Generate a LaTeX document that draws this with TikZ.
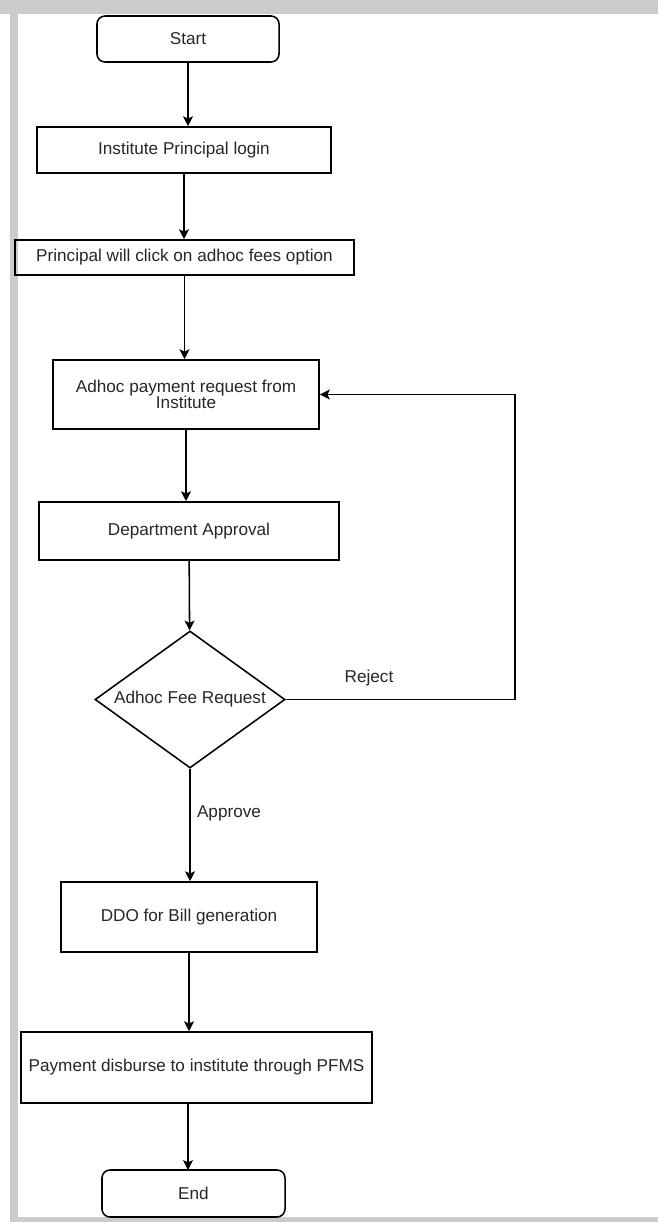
\documentclass[tikz,border=0pt]{standalone}
\usepackage{fontspec}
\setmainfont{Liberation Sans}
\usetikzlibrary{shapes.geometric,arrows.meta}
\begin{document}
\begin{tikzpicture}[>={Stealth[length=7pt,width=7pt,inset=1.5pt]}, x=0.025cm, y=-0.025cm,
  every node/.style={font=\fontsize{12.2}{11.6}\selectfont, text=black!85},
  proc/.style={draw, line width=1.1pt, inner sep=0pt},
  term/.style={proc, rounded corners=0.2cm},
  decision/.style={proc, diamond, aspect=1.4},
  flow/.style={->, line width=1.1pt}]
\useasboundingbox (0,0) rectangle (658,1222);
\fill[gray!40] (0,0) rectangle (658,14);
\fill[gray!40] (10,14) rectangle (18,1222);
\fill[gray!40] (10,1217) rectangle (658,1222);
% boxes
\node[term, minimum width=4.55cm, minimum height=1.15cm] (start) at (188,39) {Start};
\node[proc, minimum width=7.35cm, minimum height=1.15cm] (login) at (184,150) {Institute Principal login};
\node[proc, minimum width=8.475cm, minimum height=0.875cm] (click) at (184.5,257.5) {Principal will click on adhoc fees option};
\node[proc, minimum width=6.65cm, minimum height=1.725cm, align=center] (request) at (186,394.5) {Adhoc payment request from\\Institute};
\node[proc, minimum width=7.5cm, minimum height=1.45cm] (dept) at (189,531) {Department Approval};
\node[decision, minimum width=4.75cm, minimum height=3.425cm] (decide) at (190,699.5) {Adhoc Fee Request};
\node[proc, minimum width=6.4cm, minimum height=1.75cm] (ddo) at (189,917) {DDO for Bill generation};
\node[proc, minimum width=8.775cm, minimum height=1.775cm] (pay) at (196.5,1067.5) {Payment disburse to institute through PFMS};
\node[term, minimum width=4.575cm, minimum height=1.175cm] (end) at (193.5,1193.5) {End};
\node (rejectlbl) at (369,678) {Reject};
\node (approvelbl) at (229,813) {Approve};
\coordinate (loopR) at (515,699.5);
\coordinate (endin) at (188,1170);
% arrows
\draw[flow] (start) -- (start |- login.north);
\draw[flow] (login) -- (login |- click.north);
\draw[flow] (click) -- (click |- request.north);
\draw[flow] (request) -- (request |- dept.north);
\draw[flow] (dept) -- (decide);
\draw[flow] (decide) -- (decide |- ddo.north);
\draw[flow] (ddo) -- (ddo |- pay.north);
\draw[flow] (endin |- pay.south) -- (endin);
\draw[flow] (decide.east) -- (loopR) |- (request.east);
\end{tikzpicture}
\end{document}
